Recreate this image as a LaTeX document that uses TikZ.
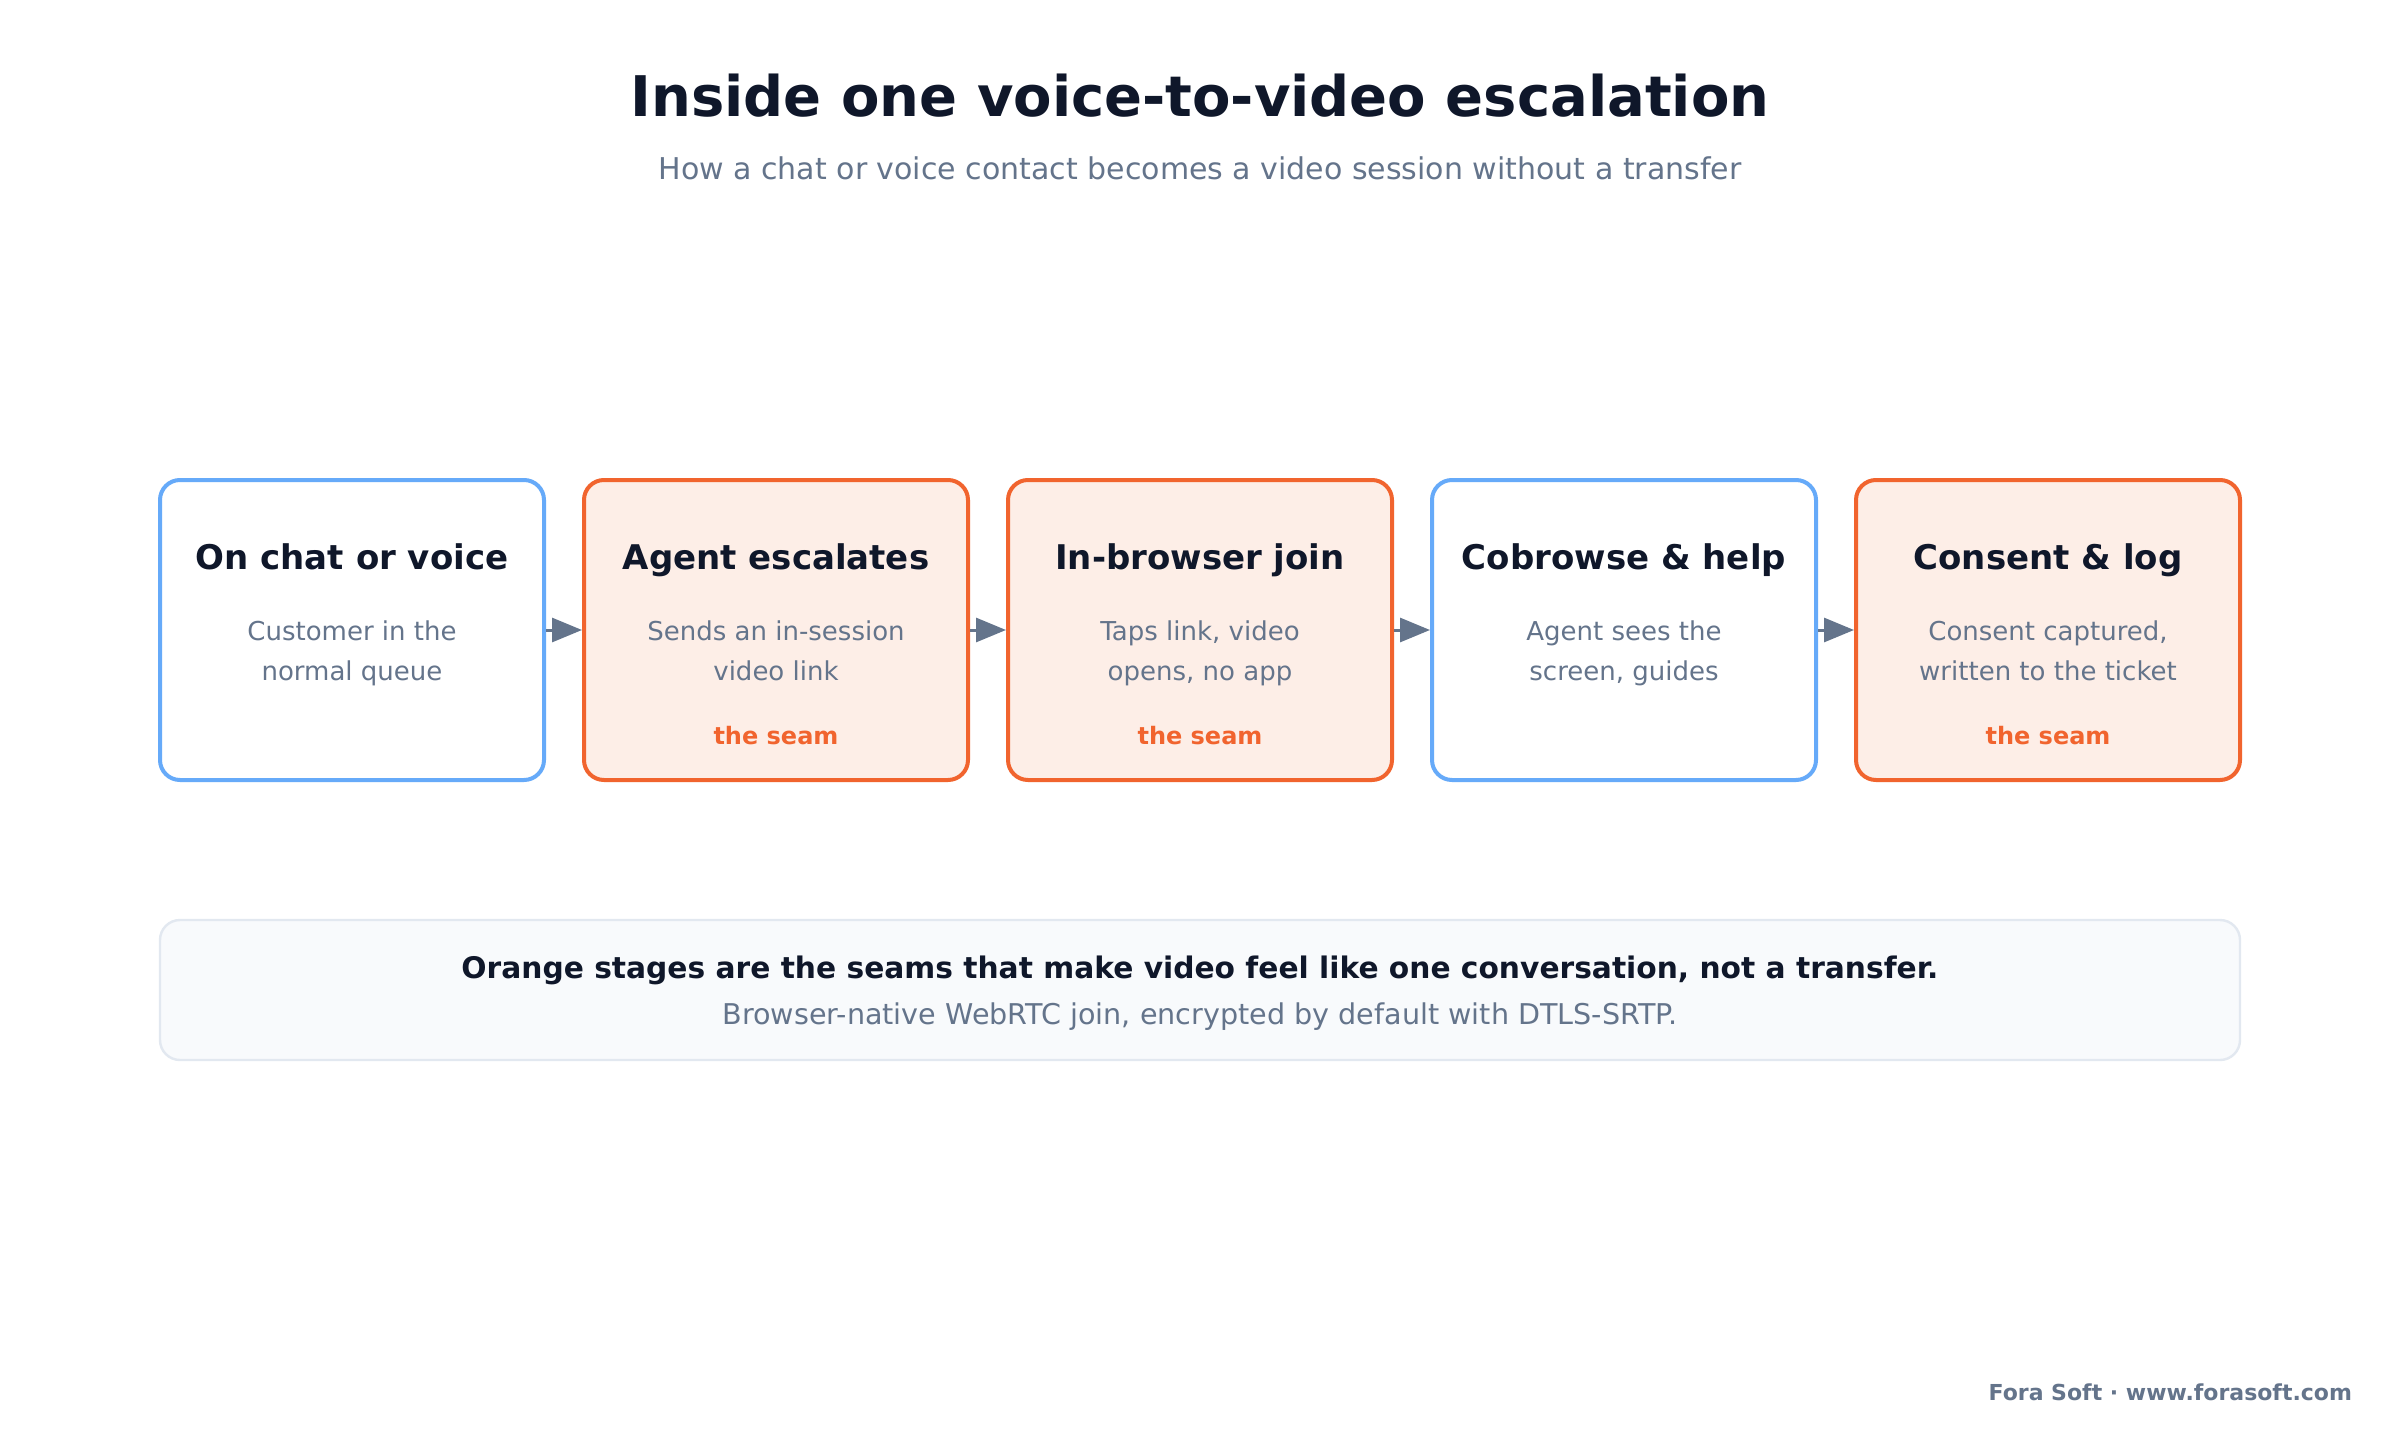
\documentclass[tikz,border=0pt]{standalone}
\usepackage{fontspec}
\setmainfont{DejaVu Sans}
\usetikzlibrary{arrows.meta}
\definecolor{ink}{HTML}{0F172A}
\definecolor{slate}{HTML}{64748B}
\definecolor{bluestroke}{HTML}{66AAF9}
\definecolor{orangestroke}{HTML}{F1642E}
\definecolor{orangefill}{HTML}{FDEEE7}
\definecolor{panelfill}{HTML}{F8FAFC}
\definecolor{panelstroke}{HTML}{E2E8F0}
\newcommand{\fs}[1]{\fontsize{#1}{#1}\selectfont}
\tikzset{
  stagebox/.style={draw, line width=2pt, rounded corners=10pt, minimum width=192pt, minimum height=150pt, inner sep=0pt, outer sep=0pt},
  plainstage/.style={stagebox, draw=bluestroke, fill=white},
  seamstage/.style={stagebox, draw=orangestroke, fill=orangefill},
  txt/.style={anchor=base, inner sep=0pt, outer sep=0pt},
  stagetitle/.style={txt, text=ink, font=\bfseries\fs{17}},
  stagedesc/.style={txt, text=slate, font=\fs{13}},
  seamlabel/.style={txt, text=orangestroke, font=\bfseries\fs{12}},
  flowarrow/.style={draw=slate, line width=1.5pt, -{Triangle[length=15pt,width=12pt]}, shorten <=1pt, shorten >=1pt},
}
\begin{document}
\begin{tikzpicture}[x=1pt,y=-1pt]
\useasboundingbox (0,0) rectangle (1200,720);
\fill[white] (0,0) rectangle (1200,720);

\node[txt, text=ink, font=\bfseries\fs{28}] (title) at (600,58) {Inside one voice-to-video escalation};
\node[txt, text=slate, font=\fs{15}] (subtitle) at (600,89.7) {How a chat or voice contact becomes a video session without a transfer};

\node[plainstage] (s1) at (176,315) {};
\node[seamstage]  (s2) at (388,315) {};
\node[seamstage]  (s3) at (600,315) {};
\node[plainstage] (s4) at (812,315) {};
\node[seamstage]  (s5) at (1024,315) {};

\draw[flowarrow] (s1.east) -- (s2.west);
\draw[flowarrow] (s2.east) -- (s3.west);
\draw[flowarrow] (s3.east) -- (s4.west);
\draw[flowarrow] (s4.east) -- (s5.west);

\node[stagetitle] (t1) at (176,284.5) {On chat or voice};
\node[stagedesc] (d1a) at (176,320) {Customer in the};
\node[stagedesc] (d1b) at (176,340) {normal queue};

\node[stagetitle] (t2) at (388,284.5) {Agent escalates};
\node[stagedesc] (d2a) at (388,320) {Sends an in-session};
\node[stagedesc] (d2b) at (388,340) {video link};
\node[seamlabel] (m2) at (388,372) {the seam};

\node[stagetitle] (t3) at (600,284.5) {In-browser join};
\node[stagedesc] (d3a) at (600,320) {Taps link, video};
\node[stagedesc] (d3b) at (600,340) {opens, no app};
\node[seamlabel] (m3) at (600,372) {the seam};

\node[stagetitle] (t4) at (812,284.5) {Cobrowse \& help};
\node[stagedesc] (d4a) at (812,320) {Agent sees the};
\node[stagedesc] (d4b) at (812,340) {screen, guides};

\node[stagetitle] (t5) at (1024,284.5) {Consent \& log};
\node[stagedesc] (d5a) at (1024,320) {Consent captured,};
\node[stagedesc] (d5b) at (1024,340) {written to the ticket};
\node[seamlabel] (m5) at (1024,372) {the seam};

\node[draw=panelstroke, fill=panelfill, line width=1.2pt, rounded corners=10pt, minimum width=1040pt, minimum height=70pt, inner sep=0pt] (panel) at (600,495) {};
\node[txt, text=ink, font=\bfseries\fs{14.85}] (note1) at (600,489) {Orange stages are the seams that make video feel like one conversation, not a transfer.};
\node[txt, text=slate, font=\fs{14.3}] (note2) at (600,512) {Browser-native WebRTC join, encrypted by default with DTLS-SRTP.};

\node[txt, anchor=base east, text=slate, font=\bfseries\fs{11}] (footer) at (1176,700) {Fora Soft · www.forasoft.com};
\end{tikzpicture}
\end{document}
